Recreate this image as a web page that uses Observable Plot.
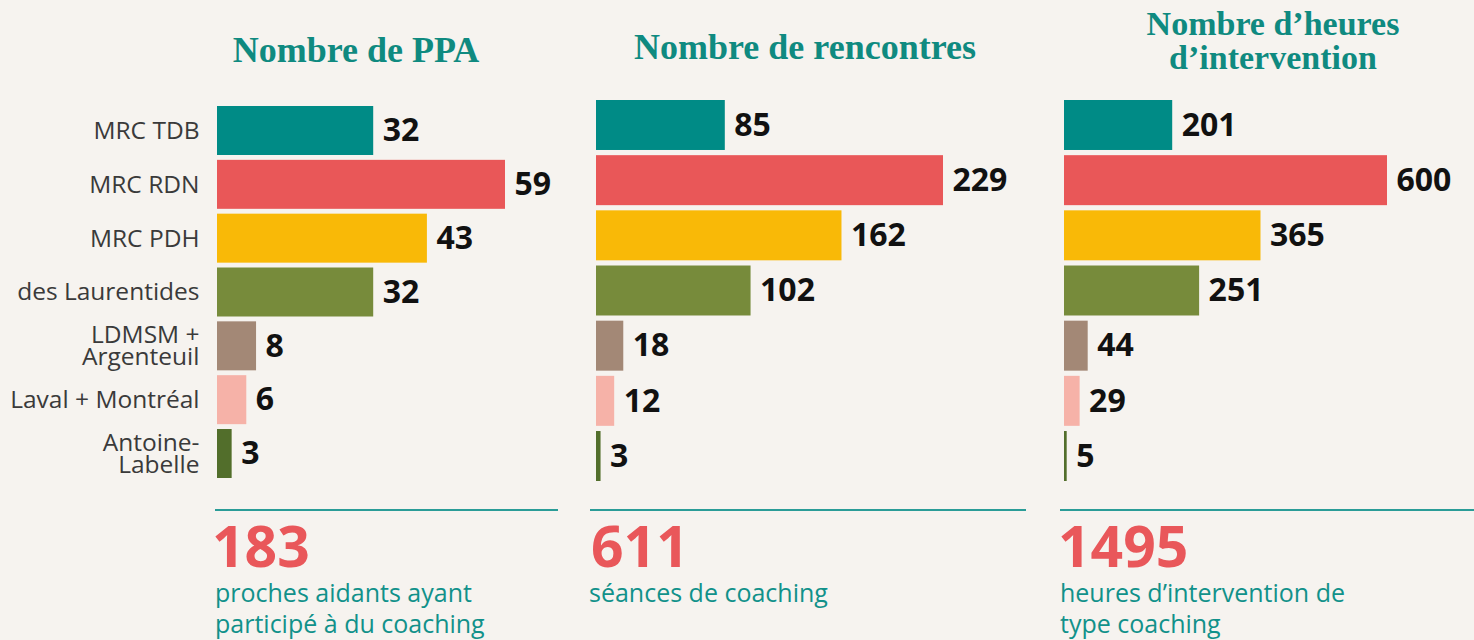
<!DOCTYPE html>
<html>
<head>
<meta charset="utf-8">
<script src="https://cdn.jsdelivr.net/npm/d3@7"></script>
<script src="https://cdn.jsdelivr.net/npm/@observablehq/plot@0.6"></script>
<style>
  html, body { margin: 0; padding: 0; background: #f6f3ef; }
  #root { position: relative; width: 1474px; height: 640px; overflow: hidden; background: #f6f3ef; font-family: "Open Sans", sans-serif; }
  .panel { position: absolute; top: 0; }
  .title { position: absolute; font-family: "Liberation Serif", serif; font-weight: bold; color: #0f8a80; font-size: 36px; line-height: 36px; text-align: center; white-space: nowrap; width: 420px; }
  .title.small { font-size: 34px; line-height: 34px; }
  .rule { position: absolute; top: 509px; height: 2px; background: #2a9c97; }
  .total { position: absolute; top: 517px; font-size: 57px; line-height: 57px; font-weight: 700; color: #e9575a; white-space: nowrap; }
  .sub { position: absolute; top: 577px; font-size: 25px; line-height: 31px; color: #11918a; white-space: nowrap; }
</style>
</head>
<body>
<div id="root"></div>
<script>
// ---- data ----
const categories = ["MRC TDB", "MRC RDN", "MRC PDH", "des Laurentides", "LDMSM +\nArgenteuil", "Laval + Montréal", "Antoine-\nLabelle"];
const ppa = [32, 59, 43, 32, 8, 6, 3];
const rencontres = [85, 229, 162, 102, 18, 12, 3];
const heures = [201, 600, 365, 251, 44, 29, 5];
const titles = ["Nombre de PPA", "Nombre de rencontres", "Nombre d’heures\nd’intervention"];
const captions = ["proches aidants ayant\nparticipé à du coaching", "séances de coaching", "heures d’intervention de\ntype coaching"];

// ---- styles ----
const palette = ["#008b86", "#e95758", "#f9b907", "#778b3b", "#a38876", "#f6b2a8", "#526e2b"];

const root = document.getElementById("root");

function panel(values, opts) {
  const rows = categories.map((c, i) => ({cat: c, v: values[i]}));
  const marks = [
    Plot.barX(rows, {x: "v", y: "cat", fill: "cat"}),
    Plot.text(rows, {x: "v", y: "cat", text: d => String(d.v), textAnchor: "start", dx: 9, dy: 0,
      fontSize: 32, fontWeight: 700, fill: "#111", fontFamily: "Open Sans"})
  ];
  if (opts.labels) {
    marks.push(Plot.text(rows, {x: () => 0, y: "cat", text: "cat", textAnchor: "end", dx: -18, dy: 1,
      fontSize: 24.5, fontWeight: 500, fill: "#3a3a3a", lineHeight: 0.88, fontFamily: "Open Sans"}));
  }
  const svg = Plot.plot({
    width: opts.width,
    height: 500,
    style: {background: "transparent", overflow: "visible"},
    x: {domain: [0, d3.max(values)], range: opts.xRange, axis: null},
    y: {domain: categories, range: opts.yRange, paddingInner: opts.pad, paddingOuter: 0, round: false, axis: null},
    color: {domain: categories, range: palette},
    marks
  });
  const wrap = document.createElement("div");
  wrap.className = "panel";
  wrap.style.left = opts.left + "px";
  wrap.appendChild(svg);
  root.appendChild(wrap);
}

panel(ppa,        {left: 0,    width: 560, xRange: [217, 505], yRange: [106, 478], pad: 0.09, labels: true});
panel(rencontres, {left: 560,  width: 480, xRange: [36, 383],  yRange: [100, 481], pad: 0.094});
panel(heures,     {left: 1040, width: 434, xRange: [24, 347],  yRange: [100, 481], pad: 0.094});

function addDiv(cls, text, style) {
  const d = document.createElement("div");
  d.className = cls;
  if (text != null) d.innerHTML = text.split("\n").join("<br>");
  Object.assign(d.style, style);
  root.appendChild(d);
}

addDiv("title", titles[0], {left: (356 - 210) + "px", top: "32px"});
addDiv("title", titles[1], {left: (805 - 210) + "px", top: "29px"});
addDiv("title small", titles[2], {left: (1273 - 210) + "px", top: "7px"});

addDiv("rule", null, {left: "215px", width: "343px"});
addDiv("rule", null, {left: "590px", width: "436px"});
addDiv("rule", null, {left: "1060px", width: "414px"});

addDiv("total", String(d3.sum(ppa)), {left: "212px"});
addDiv("total", String(d3.sum(rencontres)), {left: "591px"});
addDiv("total", String(d3.sum(heures)), {left: "1058px"});

addDiv("sub", captions[0], {left: "215px"});
addDiv("sub", captions[1], {left: "589px"});
addDiv("sub", captions[2], {left: "1060px"});
</script>
</body>
</html>
